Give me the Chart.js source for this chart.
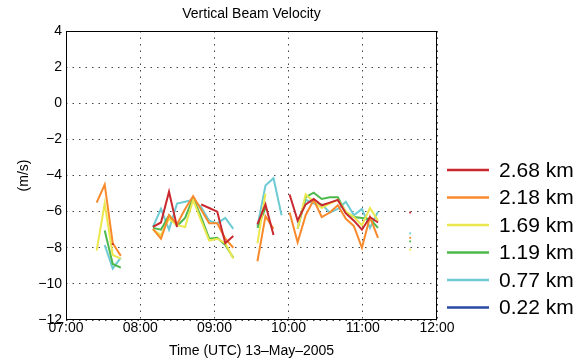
<!DOCTYPE html>
<html>
<head>
<meta charset="utf-8">
<script src="https://cdn.jsdelivr.net/npm/chart.js@4"></script>
<style>
  body { margin: 0; background: #fff; }
</style>
</head>
<body>
<canvas id="vbv" width="585" height="362"></canvas>
<script>
// sample times, minutes after 07:00 UTC (the all-null rows break the lines)
const minutesAfter7 = [24.8, 31.3, 37.8, 44.3, 50.8, 70.3, 76.8, 83.3, 89.8, 96.3, 102.8, 109.3,
  115.8, 122.3, 128.8, 135.3, 141.8, 154.8, 161.3, 167.8, 174.3, 180.8, 187.3, 193.8, 200.3,
  206.8, 213.3, 219.8, 226.3, 232.8, 239.3, 245.8, 252.3, 258.8, 278.3];

const heights = ['2.68 km', '2.18 km', '1.69 km', '1.19 km', '0.77 km', '0.22 km'];
const colors = ['#c9282e', '#f98a2c', '#ebe74f', '#4db84b', '#6ccbd3', '#2a4aa2'];

// vertical velocity (m/s)
const v268 = [null, null, -7.8, null, null, -6.85, -6.6, -4.9, -6.85, null, null, -5.6, -5.8, -6.0, -7.75,
  -7.35, null, -6.7, -5.6, -7.3, null, -5.05, -6.5, -5.6, -5.3, -5.65, -5.5, -5.35, -6.1, -6.5, -7.0,
  -6.3, -6.6, null, -6.05];
const v218 = [-5.5, -4.5, -7.75, -8.45, null, -6.95, -7.5, -6.2, -6.7, -5.85, -5.15, -5.9, -6.65, -6.65, -7.5,
  -8.0, null, -8.75, -6.25, -6.95, null, -6.05, -7.7, -6.2, -5.35, -6.3, -6.05, -5.65, -6.4, -6.8, -8.0,
  -6.3, -7.45, null, -7.45];
const v169 = [-8.15, -5.55, -8.4, -8.6, null, -7.0, -7.3, -6.4, -6.75, -6.85, -5.35, -6.5, -7.6, -7.5, -7.75,
  -8.6, null, -7.75, -5.0, null, null, null, -6.95, -5.05, -5.45, -5.8, -5.55, -5.35, -6.0, -6.3, -6.75,
  -5.8, -6.5, null, -8.1];
const v119 = [null, -7.05, -8.9, -9.1, null, -6.9, -7.0, -6.2, -6.8, -6.35, -5.25, -6.3, -7.5, -7.45, -7.85,
  -8.55, null, -6.9, -5.8, null, null, null, -6.95, -5.2, -4.95, -5.3, -5.2, -5.2, -6.05, -6.3, -6.35,
  -6.4, -6.9, null, -7.65];
const v077 = [null, -7.85, -9.15, -8.55, null, -6.85, -5.85, -7.0, -5.55, -5.45, -5.35, -5.75, -6.5, -6.65, -6.35,
  -6.95, null, -6.8, -4.55, -4.15, -6.2, null, -6.65, -5.35, -5.55, -5.6, -6.05, -5.85, -5.45, -6.2, -5.85,
  -6.9, -6.0, null, -7.2];
const v022 = minutesAfter7.map(() => null);

const series = [v268, v218, v169, v119, v077, v022];

const font = 'Liberation Sans, Arial, Helvetica, sans-serif';

// single samples with no neighbours show up as small dots
const loneDot = ctx => {
  const d = ctx.dataset.data, i = ctx.dataIndex;
  if (d[i].y == null) return 0;
  const prev = i > 0 ? d[i - 1].y : null;
  const next = i < d.length - 1 ? d[i + 1].y : null;
  return prev == null && next == null ? 1.3 : 0;
};

const frame = {
  id: 'frame',
  afterDraw(chart) {
    const {ctx, chartArea: a} = chart;
    ctx.save();
    ctx.strokeStyle = '#000';
    ctx.lineWidth = 1;
    ctx.strokeRect(a.left + 0.5, a.top + 0.5, a.right - a.left - 1, a.bottom - a.top - 1);

    ctx.fillStyle = '#000';
    ctx.font = '14px ' + font;
    ctx.textAlign = 'center';
    ctx.textBaseline = 'middle';
    ctx.fillText('Vertical Beam Velocity', (a.left + a.right) / 2, 14);

    // legend
    ctx.textAlign = 'left';
    ctx.font = '21px ' + font;
    chart.data.datasets.forEach((ds, i) => {
      const y = 170 + i * 27.5;
      ctx.strokeStyle = ds.borderColor;
      ctx.lineWidth = 2.5;
      ctx.beginPath();
      ctx.moveTo(447, y);
      ctx.lineTo(489, y);
      ctx.stroke();
      ctx.fillText(ds.label, 499, y + 1);
    });
    ctx.restore();
  }
};

new Chart(document.getElementById('vbv'), {
  type: 'line',
  data: {
    datasets: series.map((vals, k) => ({
      label: heights[k],
      data: minutesAfter7.map((m, i) => ({x: 7 + m / 60, y: vals[i]})),
      borderColor: colors[k],
      backgroundColor: colors[k],
      borderWidth: 2,
      pointRadius: loneDot,
      pointStyle: 'rect',
      pointBorderWidth: 0,
      tension: 0,
      spanGaps: false
    }))
  },
  options: {
    responsive: false,
    animation: false,
    layout: {padding: {top: 31, right: 148, left: 0, bottom: 0}},
    plugins: {
      legend: {display: false},
      tooltip: {enabled: false}
    },
    scales: {
      x: {
        type: 'linear',
        min: 7,
        max: 12,
        afterFit: s => { s.height = 42; },
        grid: {color: '#444', drawTicks: false},
        border: {display: false, dash: [1.5, 5]},
        ticks: {
          stepSize: 1,
          padding: 0,
          color: '#000',
          font: {family: font, size: 14},
          maxRotation: 0,
          callback: v => String(v).padStart(2, '0') + ':00'
        },
        title: {
          display: true,
          text: 'Time (UTC) 13–May–2005',
          color: '#000',
          font: {family: font, size: 14},
          padding: {top: 0, bottom: 2}
        }
      },
      y: {
        min: -12,
        max: 4,
        afterFit: s => { s.width = 66; },
        grid: {color: '#444', drawTicks: false},
        border: {display: false, dash: [1.5, 5]},
        ticks: {
          stepSize: 2,
          padding: 4,
          color: '#000',
          font: {family: font, size: 14},
          callback: v => (v < 0 ? '−' + Math.abs(v) : String(v))
        },
        title: {
          display: true,
          text: '(m/s)',
          color: '#000',
          font: {family: font, size: 14},
          padding: {top: 16, bottom: 0}
        }
      }
    }
  },
  plugins: [frame]
});
</script>
</body>
</html>
